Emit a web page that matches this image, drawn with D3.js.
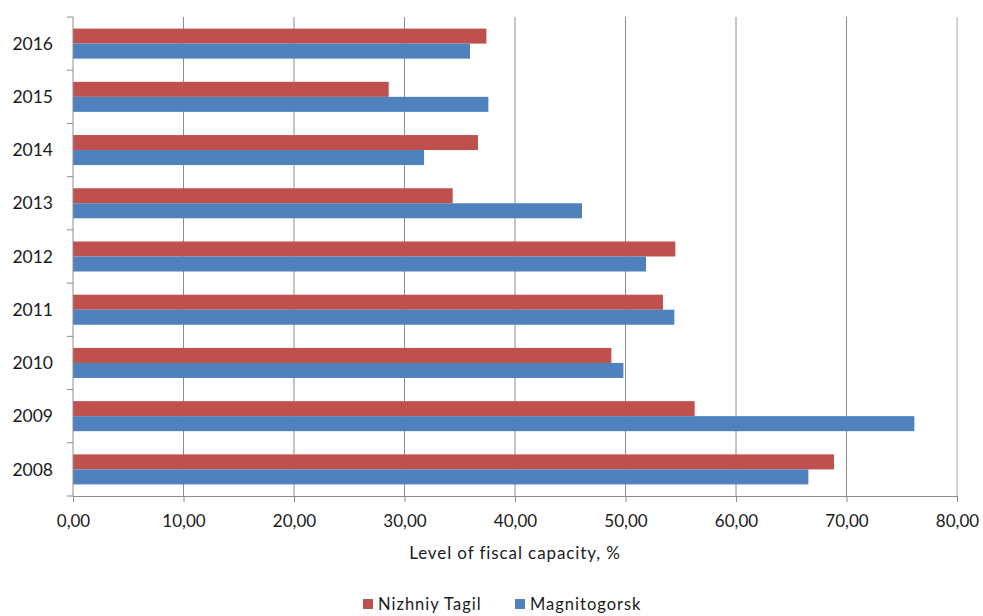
<!DOCTYPE html>
<html>
<head>
<meta charset="utf-8">
<script src="https://cdn.jsdelivr.net/npm/d3@7"></script>
<style>
  body { margin: 0; background: #fff; }
  text { font-family: Lato, "Open Sans", sans-serif; fill: #1a1a1a; }
</style>
</head>
<body>
<div id="chart"></div>
<script>
const width = 983, height = 616;

const years = ["2016", "2015", "2014", "2013", "2012", "2011", "2010", "2009", "2008"];
const seriesNames = ["Nizhniy Tagil", "Magnitogorsk"];
const nizhniyTagil = [37.41, 28.57, 36.65, 34.36, 54.51, 53.39, 48.72, 56.26, 68.87];
const magnitogorsk = [35.93, 37.59, 31.77, 46.06, 51.86, 54.42, 49.81, 76.14, 66.55];
const xTicks = [0, 10, 20, 30, 40, 50, 60, 70, 80];
const colors = ["#C0504D", "#4F81BD"];

const margin = { top: 17, right: 26, bottom: 120, left: 73 };
const plotW = width - margin.left - margin.right;
const plotH = height - margin.top - margin.bottom;

const rows = years.map((y, i) => ({ year: y, values: [nizhniyTagil[i], magnitogorsk[i]] }));

const svg = d3.select("#chart").append("svg")
    .attr("width", width)
    .attr("height", height);

const g = svg.append("g")
    .attr("transform", `translate(${margin.left},${margin.top})`);

const x = d3.scaleLinear()
    .domain([0, 80])
    .range([0, plotW]);

const y = d3.scaleBand()
    .domain(years)
    .range([0, plotH])
    .paddingInner(0.436)
    .paddingOuter(0.218);

const ySub = d3.scaleBand()
    .domain(seriesNames)
    .range([0, y.bandwidth()]);

// vertical gridlines
g.selectAll(".grid")
    .data(xTicks.slice(1))
    .enter().append("line")
    .attr("class", "grid")
    .attr("x1", d => x(d))
    .attr("x2", d => x(d))
    .attr("y1", 0)
    .attr("y2", plotH)
    .attr("stroke", d => d === 80 ? "#c4c4c4" : "#8c8c8c")
    .attr("stroke-width", d => d === 80 ? 1.5 : 1);

// bars
const groups = g.selectAll(".year")
    .data(rows)
    .enter().append("g")
    .attr("class", "year")
    .attr("transform", d => `translate(0,${y(d.year)})`);

groups.selectAll("rect")
    .data(d => d.values.map((v, i) => ({ name: seriesNames[i], value: v, color: colors[i] })))
    .enter().append("rect")
    .attr("x", 0)
    .attr("y", d => ySub(d.name))
    .attr("width", d => x(d.value))
    .attr("height", ySub.bandwidth())
    .attr("fill", d => d.color);

// x axis
const xAxis = g.append("g")
    .attr("transform", `translate(0,${plotH})`)
    .call(d3.axisBottom(x)
        .tickValues(xTicks)
        .tickSize(6)
        .tickFormat(d => d3.format(".2f")(d).replace(".", ",")));
xAxis.select(".domain").attr("stroke", "#8c8c8c");
xAxis.selectAll(".tick line").attr("stroke", "#8c8c8c");
xAxis.selectAll(".tick text")
    .attr("y", 25)
    .attr("dy", "0.35em")
    .style("font-size", "17px");

// y axis, ticks at band boundaries
const yAxis = g.append("g");
yAxis.append("line")
    .attr("x1", 0).attr("x2", 0)
    .attr("y1", 0).attr("y2", plotH)
    .attr("stroke", "#8c8c8c");
yAxis.selectAll(".ytick")
    .data(d3.range(years.length + 1))
    .enter().append("line")
    .attr("x1", -6).attr("x2", 0)
    .attr("y1", i => i * y.step())
    .attr("y2", i => i * y.step())
    .attr("stroke", "#8c8c8c");
yAxis.selectAll(".ylabel")
    .data(years)
    .enter().append("text")
    .attr("x", -20)
    .attr("y", d => y(d) + y.bandwidth() / 2)
    .attr("dy", "0.35em")
    .attr("text-anchor", "end")
    .style("font-size", "17.5px")
    .text(d => d);

// axis title
svg.append("text")
    .attr("x", margin.left + plotW / 2)
    .attr("y", 553)
    .attr("dy", "0.35em")
    .attr("text-anchor", "middle")
    .style("font-size", "17px")
    .style("letter-spacing", "0.9px")
    .text("Level of fiscal capacity, %");

// legend
const legendX = [363, 515];
const legend = svg.selectAll(".legend")
    .data(seriesNames)
    .enter().append("g")
    .attr("class", "legend")
    .attr("transform", (d, i) => `translate(${legendX[i]},604)`);

legend.append("rect")
    .attr("x", 0)
    .attr("y", -5)
    .attr("width", 10)
    .attr("height", 10)
    .attr("fill", (d, i) => colors[i]);

legend.append("text")
    .attr("x", 15)
    .attr("y", 0)
    .attr("dy", "0.35em")
    .style("font-size", "16.5px")
    .style("letter-spacing", "1px")
    .text(d => d);
</script>
</body>
</html>
